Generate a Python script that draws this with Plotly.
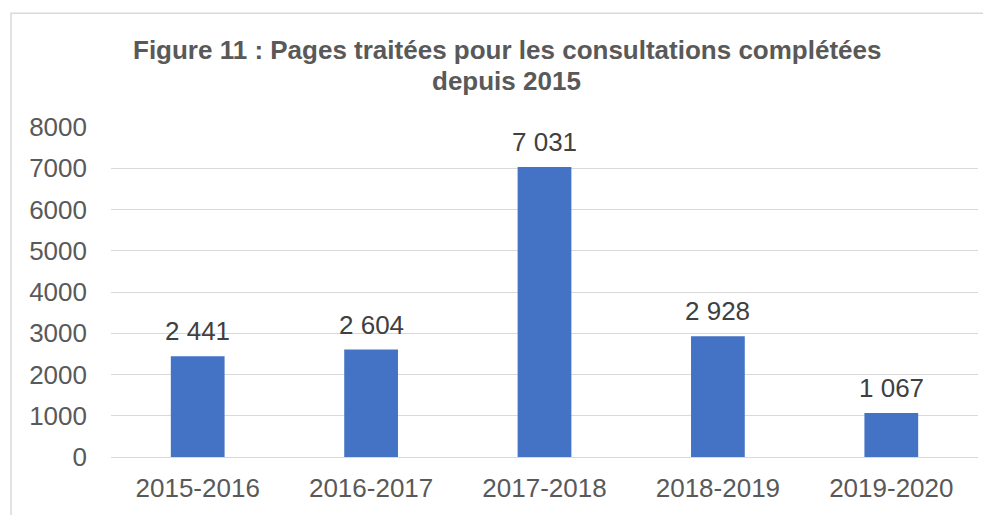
import plotly.graph_objects as go

periodes = ['2015-2016', '2016-2017', '2017-2018', '2018-2019', '2019-2020']
pages = [2441, 2604, 7031, 2928, 1067]
y_ticks = [0, 1000, 2000, 3000, 4000, 5000, 6000, 7000, 8000]
titre_1 = 'Figure 11 : Pages traitées pour les consultations complétées'
titre_2 = 'depuis 2015'

gris = '#595959'
police = 'Liberation Sans, Arial, sans-serif'

fig = go.Figure()
fig.add_trace(go.Bar(x=periodes, y=pages, marker_color='#4472C4', marker_line_width=0,
                     hoverinfo='x+y'))

# étiquettes de données "2 441" au-dessus des barres
for p, v in zip(periodes, pages):
    fig.add_annotation(x=p, y=v, text=f'{v:,}'.replace(',', ' '), showarrow=False,
                       yanchor='bottom', yshift=8, font=dict(size=26, color='#404040'))

# titre sur deux lignes, centré sur la zone du graphique
fig.add_annotation(xref='paper', yref='paper', x=0.4567, y=1.2325, text='<b>' + titre_1 + '</b>',
                   showarrow=False, xanchor='center', yanchor='middle', borderpad=0,
                   font=dict(size=26, color=gris))
fig.add_annotation(xref='paper', yref='paper', x=0.4567, y=1.1385, text='<b>' + titre_2 + '</b>',
                   showarrow=False, xanchor='center', yanchor='middle', borderpad=0,
                   font=dict(size=26, color=gris))

# cadre du graphique
fig.add_shape(type='rect', xref='paper', yref='paper', x0=-0.1153, x1=1.04, y0=-0.3, y1=1.3444,
              line=dict(color='#D9D9D9', width=1.5), layer='below')

# la page html ajoute une marge de 8 px autour de la figure
fig.update_layout(
    width=983, height=507,
    margin=dict(l=103, r=13, t=119, b=49),
    paper_bgcolor='white', plot_bgcolor='white',
    bargap=0.69, showlegend=False,
    font=dict(family=police, size=26, color=gris),
)
fig.update_xaxes(showgrid=False, showline=False, ticks='', ticklabelstandoff=13,
                 tickfont=dict(size=26, color=gris))
fig.update_yaxes(range=[0, 8000], tickvals=y_ticks, showgrid=True, gridcolor='#D9D9D9',
                 gridwidth=1, zeroline=True, zerolinecolor='#D9D9D9', zerolinewidth=1,
                 ticks='', ticklabelstandoff=23, tickfont=dict(size=26, color=gris))

fig.write_html('out.html')
